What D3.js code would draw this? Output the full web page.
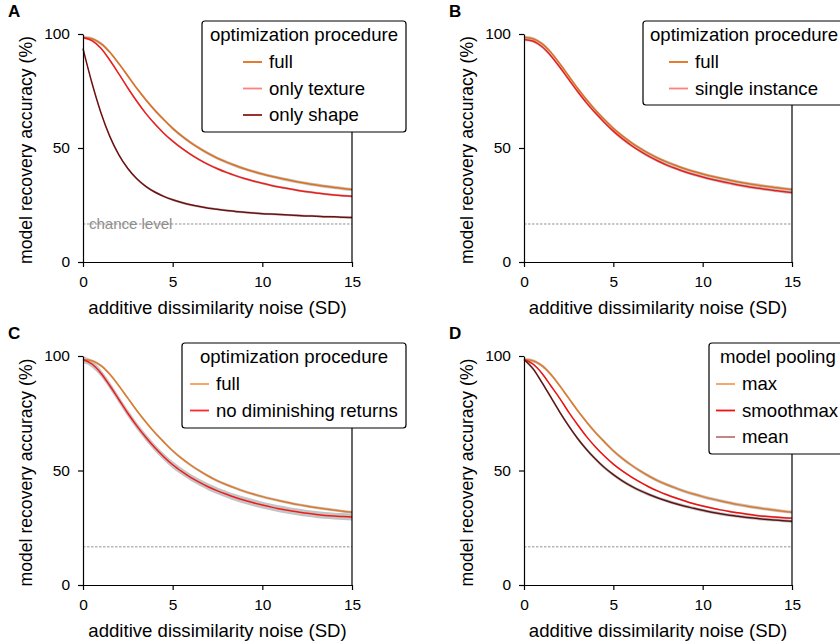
<!DOCTYPE html>
<html lang="en">
<head>
<meta charset="UTF-8">
<title>Model recovery accuracy</title>
<style>
  body { margin: 0; background: white; }
  svg text { font-family: "Liberation Sans", Arial, sans-serif; }
</style>
</head>
<body>
<div class="canvas"></div>
<script src="https://cdnjs.cloudflare.com/ajax/libs/d3/7.8.2/d3.min.js"></script>
<script>
// noise levels (SD) shared by all curves
const noiseSD = [0, 0.5, 1, 1.5, 2, 2.5, 3, 3.5, 4, 4.5, 5, 5.5, 6, 6.5, 7, 7.5,
  8, 8.5, 9, 9.5, 10, 10.5, 11, 11.5, 12, 12.5, 13, 13.5, 14, 14.5, 15];

// accuracy (%)
const accFull = [98.5, 97.9, 95.8, 92, 87, 81.6, 76.2, 71.2, 66.6, 62.5, 58.6, 55.3, 52.4, 49.8, 47.5, 45.5,
  43.8, 42.3, 40.9, 39.7, 38.6, 37.6, 36.7, 35.9, 35.1, 34.4, 33.8, 33.2, 32.7, 32.2, 31.8];
const accOnlyTexture = [98.5, 97.1, 93.8, 88.5, 82.5, 76.3, 70.5, 65.2, 60.6, 56.5, 53, 49.9, 47.2, 44.8, 42.7, 40.9,
  39.3, 37.9, 36.6, 35.5, 34.5, 33.6, 32.8, 32.1, 31.4, 30.8, 30.3, 29.8, 29.4, 29.1, 28.8];
const accOnlyShape = [93.6, 78.5, 65.5, 55, 47, 41, 36.5, 33.2, 30.7, 28.8, 27.3, 26.1, 25.1, 24.3, 23.6, 23.1,
  22.6, 22.2, 21.8, 21.5, 21.2, 21, 20.8, 20.6, 20.4, 20.2, 20.1, 19.9, 19.8, 19.6, 19.5];
const accSingleInstance = [97.6, 96.9, 94.5, 90.5, 85.5, 80.1, 74.8, 69.8, 65.3, 61.2, 57.4, 54.1, 51.2, 48.6, 46.3, 44.3,
  42.5, 41, 39.6, 38.4, 37.3, 36.3, 35.4, 34.6, 33.8, 33.1, 32.5, 31.9, 31.4, 30.9, 30.5];
const accNoDimReturns = [98.5, 96.5, 92.5, 87, 81, 75, 69.5, 64.5, 60, 56, 52.5, 49.6, 47, 44.8, 42.8, 41.1,
  39.6, 38.2, 37, 35.9, 34.9, 34, 33.2, 32.5, 31.9, 31.3, 30.8, 30.4, 30.1, 29.9, 29.7];
const accSmoothmax = [98.5, 96.5, 92.5, 87, 81.5, 75.5, 70, 64.8, 60.3, 56.3, 52.8, 49.8, 47.2, 44.9, 42.8, 41,
  39.4, 38, 36.7, 35.5, 34.5, 33.6, 32.8, 32.1, 31.5, 30.9, 30.4, 30, 29.7, 29.4, 29.2];
const accMean = [98.5, 94.5, 88.5, 82, 75.5, 69.5, 64, 59.2, 55, 51.3, 48.2, 45.5, 43.2, 41.2, 39.5, 38,
  36.7, 35.5, 34.4, 33.5, 32.6, 31.8, 31.1, 30.5, 30, 29.5, 29.1, 28.7, 28.4, 28.1, 27.8];

const xTicks = [0, 5, 10, 15];
const yTicks = [0, 50, 100];
const chanceLevel = 16.67;

const svg = d3.select(".canvas").append("svg")
  .attr("width", 840)
  .attr("height", 644);

function drawPanel(p) {
  const x = d3.scaleLinear().domain([0, 15]).range([p.left, p.right]);
  const y = d3.scaleLinear().domain([0, 100]).range([p.bottom, p.top]);
  const g = svg.append("g");

  const line = d3.line().x((d, i) => x(noiseSD[i])).y(d => y(d)).curve(d3.curveMonotoneX);
  const band = (w) => d3.area().x((d, i) => x(noiseSD[i]))
    .y0(d => y(d - w)).y1(d => y(d + w)).curve(d3.curveMonotoneX);

  // chance level
  g.append("line")
    .attr("x1", x(0)).attr("x2", x(15))
    .attr("y1", y(chanceLevel)).attr("y2", y(chanceLevel))
    .attr("stroke", "#777").attr("stroke-width", 0.8)
    .attr("stroke-dasharray", "2.5,1.5");
  if (p.chanceLabel) {
    g.append("text").attr("x", x(0) + 6).attr("y", y(chanceLevel) + 5)
      .attr("font-size", 15).attr("fill", "#8e8e8e").text("chance level");
  }

  // error bands then curves
  p.series.forEach(s => {
    g.append("path").datum(s.values)
      .attr("d", band(s.band))
      .attr("fill", "#c4c4c4");
  });
  p.series.forEach(s => {
    g.append("path").datum(s.values)
      .attr("d", line)
      .attr("fill", "none")
      .attr("stroke", s.color)
      .attr("stroke-width", 1.5);
  });

  // axes
  const xAxis = g.append("g").attr("transform", `translate(0, ${p.bottom})`)
    .call(d3.axisBottom(x).tickValues(xTicks).tickSize(5).tickSizeOuter(0).tickPadding(9));
  const yAxis = g.append("g").attr("transform", `translate(${p.left}, 0)`)
    .call(d3.axisLeft(y).tickValues(yTicks).tickSize(5).tickSizeOuter(0).tickPadding(8));
  [xAxis, yAxis].forEach(a => {
    a.selectAll("text").attr("font-size", 15.5).attr("fill", "#000")
      .attr("font-family", "'Liberation Sans', Arial, sans-serif");
    a.selectAll("path, line").attr("stroke", "#000").attr("stroke-width", 1.2);
  });
  // right spine
  g.append("line").attr("x1", x(15)).attr("x2", x(15))
    .attr("y1", y(0)).attr("y2", y(100))
    .attr("stroke", "#000").attr("stroke-width", 1.2);

  g.append("text")
    .attr("x", (p.left + p.right) / 2).attr("y", p.bottom + 52)
    .attr("text-anchor", "middle").attr("font-size", 18.6)
    .text("additive dissimilarity noise (SD)");
  g.append("text")
    .attr("transform", `translate(${p.left - 51}, ${(p.top + p.bottom) / 2 + 2}) rotate(-90)`)
    .attr("text-anchor", "middle").attr("font-size", 17.6)
    .text("model recovery accuracy (%)");

  g.append("text").attr("x", p.left - 75).attr("y", p.top - 17)
    .attr("font-size", 17).attr("font-weight", "bold").text(p.letter);

  // legend
  const L = p.legend;
  g.append("rect")
    .attr("x", L.x).attr("y", L.y).attr("width", L.w).attr("height", L.h)
    .attr("rx", 3).attr("fill", "white").attr("stroke", "#000").attr("stroke-width", 1.2);
  g.append("text").attr("x", L.titleX).attr("y", L.y + 20)
    .attr("text-anchor", L.titleAnchor).attr("font-size", 18.6).text(L.title);
  p.series.forEach((s, i) => {
    const yy = L.y + 47 + i * 26.5;
    g.append("line").attr("x1", L.lineX).attr("x2", L.lineX + 19)
      .attr("y1", yy - 6).attr("y2", yy - 6)
      .attr("stroke", s.legendColor).attr("stroke-width", 1.8);
    g.append("text").attr("x", L.lineX + 26).attr("y", yy)
      .attr("font-size", 18.6).text(s.name);
  });
}

drawPanel({
  letter: "A", left: 83, right: 352, top: 34, bottom: 262, chanceLabel: true,
  series: [
    { name: "full", values: accFull, color: "#e06e1c", legendColor: "#e06e1c", band: 0.7 },
    { name: "only texture", values: accOnlyTexture, color: "#f01c1c", legendColor: "#ff8080", band: 0.5 },
    { name: "only shape", values: accOnlyShape, color: "#6e1010", legendColor: "#8e1a1a", band: 0.5 }
  ],
  legend: { x: 202, y: 21, w: 204, h: 111, title: "optimization procedure", titleX: 304, titleAnchor: "middle", lineX: 243 }
});

drawPanel({
  letter: "B", left: 524, right: 792, top: 34, bottom: 262,
  series: [
    { name: "full", values: accFull, color: "#e06e1c", legendColor: "#e06e1c", band: 0.7 },
    { name: "single instance", values: accSingleInstance, color: "#f01c1c", legendColor: "#ff8080", band: 0.7 }
  ],
  legend: { x: 643, y: 21, w: 220, h: 84, title: "optimization procedure", titleX: 650, titleAnchor: "start", lineX: 669 }
});

drawPanel({
  letter: "C", left: 83, right: 352, top: 356, bottom: 585,
  series: [
    { name: "full", values: accFull, color: "#e07a2a", legendColor: "#f0a060", band: 0.6 },
    { name: "no diminishing returns", values: accNoDimReturns, color: "#f01c1c", legendColor: "#ff2a2a", band: 1.5 }
  ],
  legend: { x: 182, y: 343, w: 224, h: 85, title: "optimization procedure", titleX: 294, titleAnchor: "middle", lineX: 190 }
});

drawPanel({
  letter: "D", left: 524, right: 792, top: 356, bottom: 585,
  series: [
    { name: "max", values: accFull, color: "#e07a2a", legendColor: "#f0a060", band: 0.7 },
    { name: "smoothmax", values: accSmoothmax, color: "#f01010", legendColor: "#f01010", band: 0.4 },
    { name: "mean", values: accMean, color: "#5e1414", legendColor: "#c07878", band: 0.7 }
  ],
  legend: { x: 709, y: 343, w: 160, h: 111, title: "model pooling", titleX: 720, titleAnchor: "start", lineX: 716 }
});
</script>
</body>
</html>
